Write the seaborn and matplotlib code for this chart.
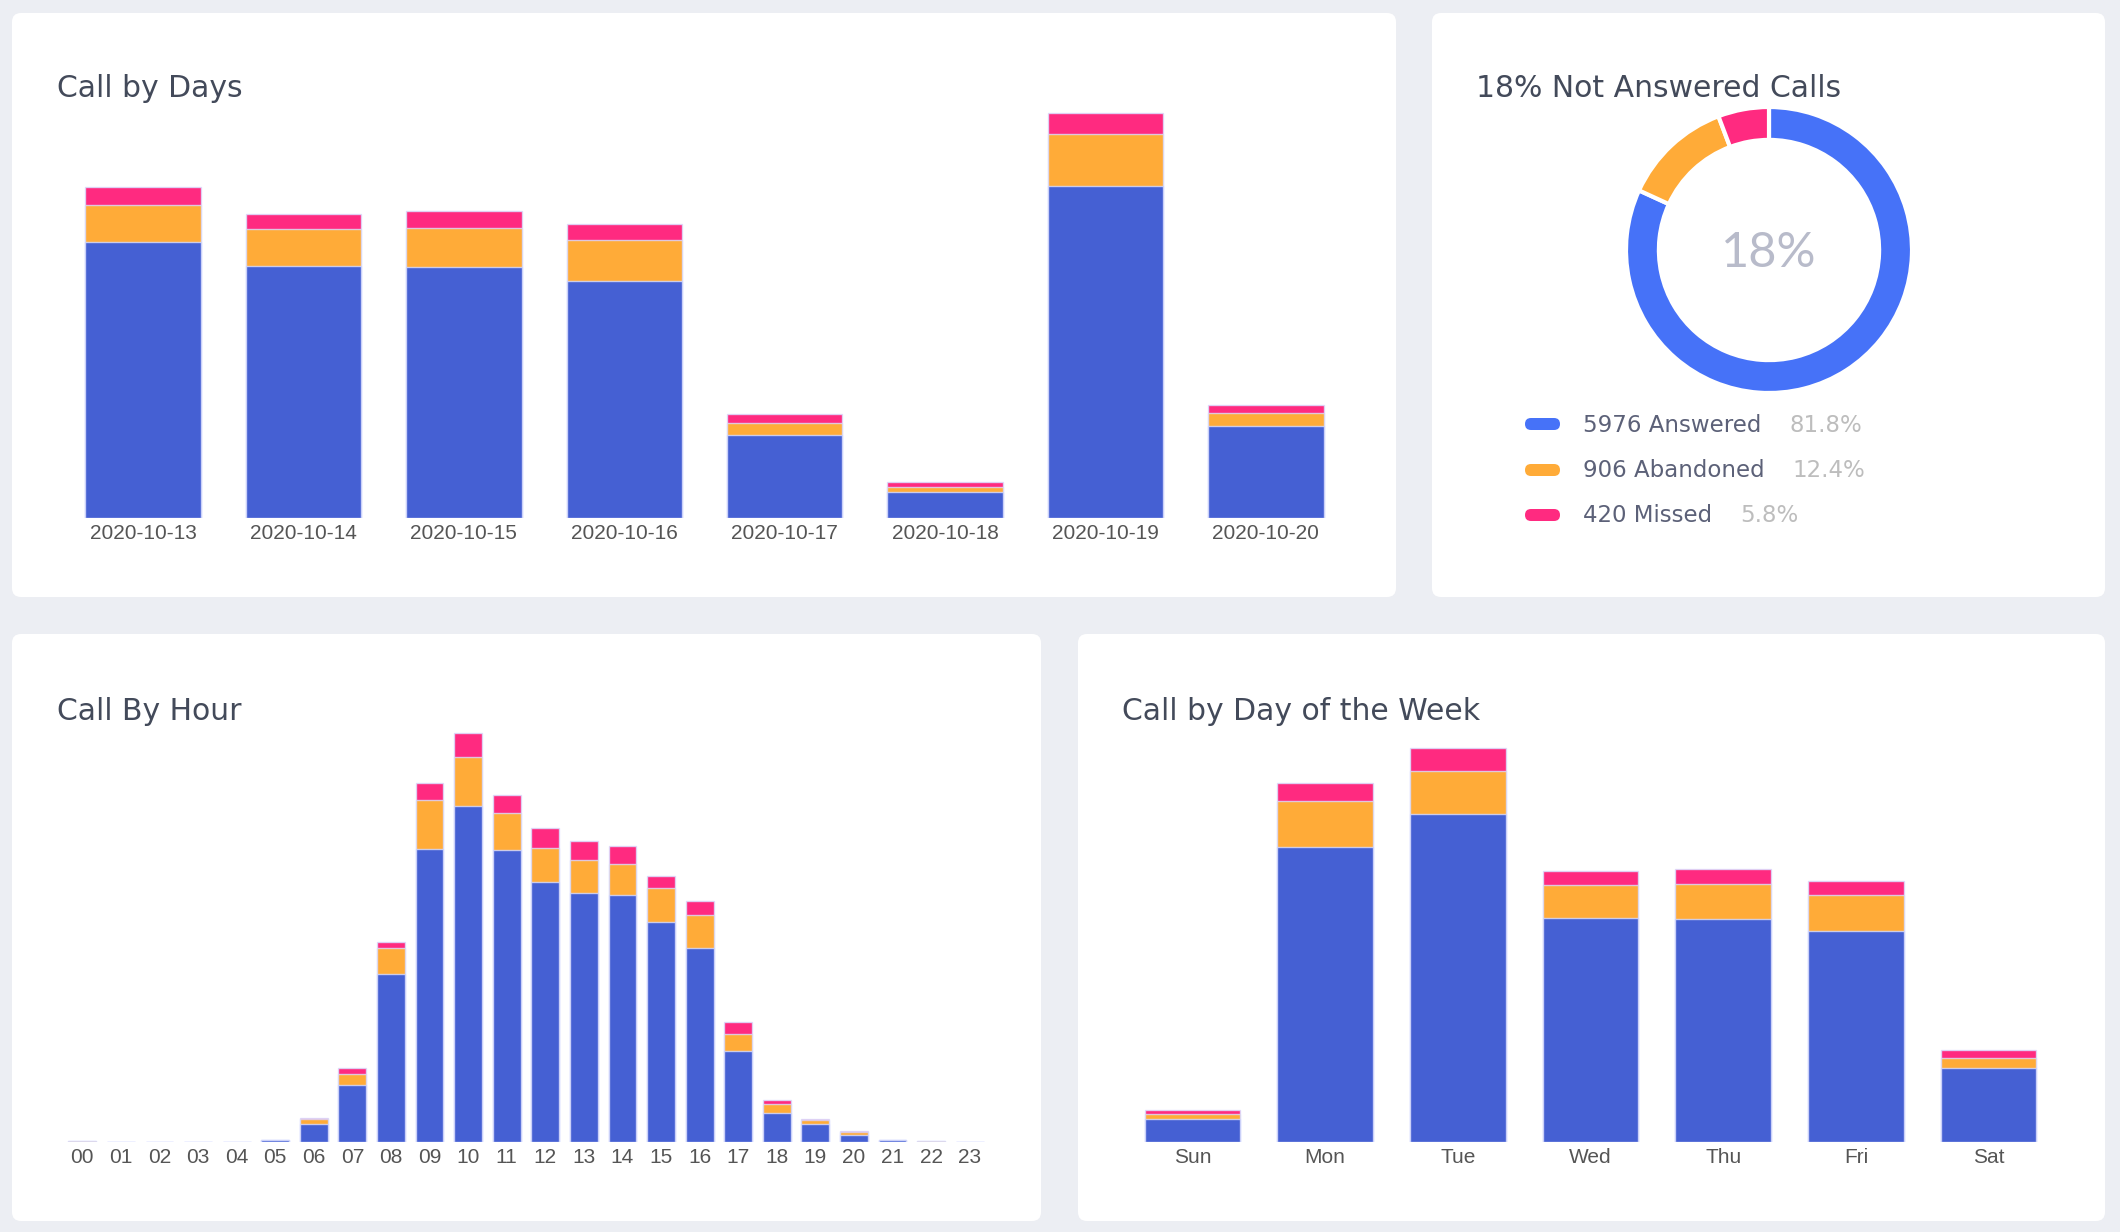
import matplotlib.pyplot as plt
import pandas as pd
import numpy as np
import seaborn as sns
from matplotlib.patches import FancyBboxPatch
from matplotlib.transforms import IdentityTransform

# Calls per date
days = ["2020-10-13", "2020-10-14", "2020-10-15", "2020-10-16",
        "2020-10-17", "2020-10-18", "2020-10-19", "2020-10-20"]
days_answered = [1066, 973, 967, 915, 319, 99, 1281, 356]
days_abandoned = [141, 141, 152, 157, 47, 21, 199, 48]
days_missed = [70, 60, 65, 60, 35, 20, 80, 30]

# Calls per hour of day
hours = ["00", "01", "02", "03", "04", "05", "06", "07", "08", "09", "10", "11",
         "12", "13", "14", "15", "16", "17", "18", "19", "20", "21", "22", "23"]
hour_answered = [0, 0, 0, 0, 0, 4, 43, 137, 405, 705, 809, 702,
                 626, 600, 595, 529, 468, 218, 69, 44, 17, 5, 0, 0]
hour_abandoned = [2, 0, 0, 0, 0, 0, 12, 27, 62, 119, 117, 90,
                  81, 79, 74, 82, 79, 42, 22, 9, 6, 0, 2, 1]
hour_missed = [1, 0, 0, 0, 0, 2, 2, 14, 15, 40, 58, 43,
               49, 45, 44, 30, 33, 28, 10, 3, 3, 0, 0, 0]

# Calls per weekday
weekdays = ["Sun", "Mon", "Tue", "Wed", "Thu", "Fri", "Sat"]
wd_answered = [99, 1281, 1422, 973, 967, 915, 319]
wd_abandoned = [21, 199, 189, 141, 152, 157, 47]
wd_missed = [20, 80, 100, 60, 65, 60, 35]

# Summary for the donut
status = ["Answered", "Abandoned", "Missed"]
status_counts = [5976, 906, 420]

BG = "#ECEEF3"
BAR_BLUE = "#4560D3"
DONUT_BLUE = "#4672F8"
ORANGE = "#FFAB38"
PINK = "#FF2A80"
TITLE_COLOR = "#434A5A"

W, H = 2120, 1232


def box(x0, y0, x1, y1):
    # pixel box (top-left origin) -> figure fraction rect
    return [x0 / W, 1 - y1 / H, (x1 - x0) / W, (y1 - y0) / H]


sns.set_style("white")
plt.rcParams["font.family"] = ["DejaVu Sans"]

fig = plt.figure(figsize=(W / 100, H / 100), dpi=100, facecolor=BG)

# white cards
panels = [(12, 13, 1396, 597), (1432, 13, 2105, 597),
          (12, 634, 1041, 1221), (1078, 634, 2105, 1221)]
for x0, y0, x1, y1 in panels:
    fig.add_artist(FancyBboxPatch((x0, H - y1), x1 - x0, y1 - y0,
                                  boxstyle="round,pad=0,rounding_size=9",
                                  transform=IdentityTransform(),
                                  facecolor="white", edgecolor="none", zorder=0))


def stacked(ax, cats, answered, abandoned, missed, ymax, width=0.72):
    df = pd.DataFrame({"cat": cats, "answered": answered,
                       "abandoned": abandoned, "missed": missed})
    df["ans_ab"] = df["answered"] + df["abandoned"]
    df["total"] = df["ans_ab"] + df["missed"]
    # draw back to front so each layer shows as a stacked segment
    for col, color in [("total", PINK), ("ans_ab", ORANGE), ("answered", BAR_BLUE)]:
        sns.barplot(data=df, x="cat", y=col, order=cats, color=color, saturation=1,
                    width=width, errorbar=None, ax=ax,
                    edgecolor=(0.85, 0.87, 1.0, 0.8), linewidth=1)
    ax.set_ylim(0, ymax)
    ax.set_xlim(-0.5, len(cats) - 0.5)
    ax.set(xlabel="", ylabel="", yticks=[])
    sns.despine(ax=ax, left=True, bottom=True)
    ax.tick_params(axis="x", length=0, pad=4, labelsize=15, labelcolor="#555555")
    for lab in ax.get_xticklabels():
        lab.set_fontfamily("Liberation Sans")
    ax.patch.set_alpha(0)


ax1 = fig.add_axes(box(63, 100, 1346, 518))
stacked(ax1, days, days_answered, days_abandoned, days_missed, ymax=1612)

ax3 = fig.add_axes(box(63, 700, 989, 1142))
stacked(ax3, hours, hour_answered, hour_abandoned, hour_missed, ymax=1064)

ax4 = fig.add_axes(box(1126, 700, 2055, 1142))
stacked(ax4, weekdays, wd_answered, wd_abandoned, wd_missed, ymax=1918)

# titles
total = sum(status_counts)
not_answered = round(100 * (status_counts[1] + status_counts[2]) / total)
titles = [(57, 97, "Call by Days"), (1476, 97, f"{not_answered}% Not Answered Calls"),
          (57, 720, "Call By Hour"), (1122, 720, "Call by Day of the Week")]
for x, y, t in titles:
    fig.text(x / W, 1 - y / H, t, fontsize=21.5, color=TITLE_COLOR,
             ha="left", va="baseline")

# donut
cx, cy, r = 1769, 250, 143
ax2 = fig.add_axes(box(cx - r, cy - r, cx + r, cy + r))
wedges, _ = ax2.pie(status_counts, colors=[DONUT_BLUE, ORANGE, PINK], startangle=90,
                    counterclock=False, radius=1,
                    wedgeprops=dict(width=0.23, edgecolor="white", linewidth=3))
for w in wedges:
    w.set_clip_on(False)
ax2.set_xlim(-1, 1)
ax2.set_ylim(-1, 1)
ax2.text(0, -0.12, f"{not_answered}%", ha="center", va="baseline",
         fontsize=35, color="#B8BBCA", fontfamily=["Lato", "DejaVu Sans"])

# donut legend
colors = [DONUT_BLUE, ORANGE, PINK]
rows = [(424, 432), (470, 477), (515, 522)]
fig.canvas.draw()
renderer = fig.canvas.get_renderer()
for (pill_y, base_y), name, n, c in zip(rows, status, status_counts, colors):
    fig.add_artist(FancyBboxPatch((1525, H - pill_y - 6), 35, 12,
                                  boxstyle="round,pad=0,rounding_size=6",
                                  transform=IdentityTransform(),
                                  facecolor=c, edgecolor="none"))
    t = fig.text(1583 / W, 1 - base_y / H, f"{n} {name}", fontsize=16.5,
                 color="#5C6178", ha="left", va="baseline")
    x1 = t.get_window_extent(renderer).x1
    fig.text((x1 + 28) / W, 1 - base_y / H, f"{100 * n / total:.1f}%", fontsize=16.5,
             color="#BDBDBD", ha="left", va="baseline")

fig.savefig("out.png", dpi=100, facecolor=BG)
